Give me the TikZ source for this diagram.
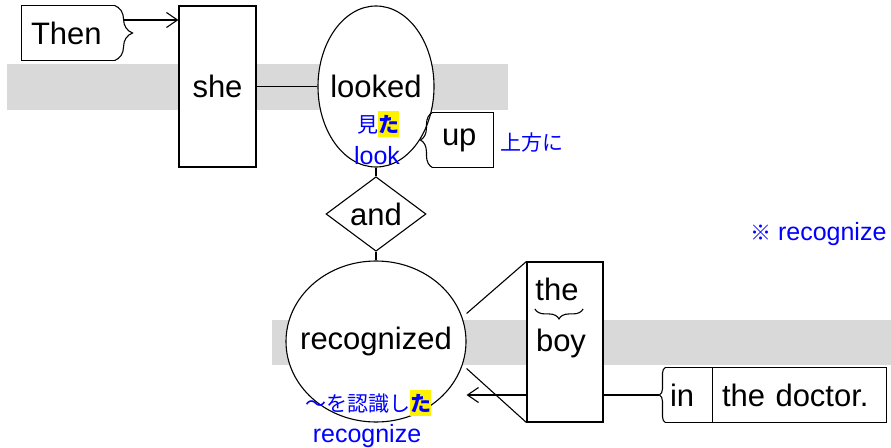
\documentclass[tikz,border=0pt]{standalone}
\usepackage{fontspec}
\setmainfont{Liberation Sans}
\newfontfamily\jpfont{Noto Sans CJK JP}
\usetikzlibrary{shapes.geometric,positioning,decorations.pathreplacing,arrows.meta}

\newcommand{\wordfont}{\fontsize{31}{36}\selectfont}
\newcommand{\glossfont}{\fontsize{25}{28}\selectfont}
\newcommand{\jp}[1]{{\jpfont\fontsize{21}{24}\selectfont #1}}
\newcommand{\hl}[1]{{\setlength{\fboxsep}{0pt}\colorbox{yellow}{\rule[-5pt]{0pt}{26pt}\bfseries #1}}}

\begin{document}
\begin{tikzpicture}[x=1pt, y=-1pt, line width=1.1pt,
            word/.style={rectangle, draw, fill=white, font=\wordfont, inner sep=0pt},
            slot/.style={rectangle, font=\wordfont, inner xsep=9pt, inner ysep=0pt, minimum height=54pt, align=left},
            verb/.style={ellipse, draw, fill=white, font=\wordfont, inner sep=0pt, minimum height=161pt},
            conj/.style={diamond, draw, fill=white, font=\wordfont, inner sep=0pt, minimum width=100pt, minimum height=60pt},
            gloss/.style={font=\glossfont, text=blue, inner sep=0pt},
            band/.style={fill=black!15},
            bracket/.style={decorate, decoration={brace, amplitude=#1}},
            arrow/.style={-{Straight Barb[length=11pt,width=15pt]}}
        ]
            \useasboundingbox (0,0) rectangle (891,447);

            % gray bands behind the two clauses
            \fill[band] (7,64) rectangle (508,110);
            \fill[band] (272,320) rectangle (891,365);

            % words
            \node[slot, text width=74pt] (then) at (68,33) {Then};
            \node[word, minimum width=77pt, minimum height=161pt] (she) at (217.5,86.5) {she};
            \node[verb, minimum width=116pt] (looked) at (376,86.5) {\makebox[0pt]{looked}};
            \node[slot, text width=42pt] (up) at (463,140) {up};
            \node[conj] (and) at (376,214) {and};
            \node[verb, minimum width=180pt] (recognized) at (376,341.5) {\makebox[0pt]{recognized}};
            \node[slot, inner xsep=4pt, text width=38pt] (in) at (689,395) {in};
            \node[slot, text width=155pt, right=0pt of in] (doctor) {the doctor.};

            % modifier boxes with a brace side
            \draw (then.north east) -- (then.north west) -- (then.south west) -- (then.south east);
            \draw[bracket=18pt] (then.north east) -- (then.south east);
            \draw (up.north west) -- (up.north east) -- (up.south east) -- (up.south west);
            \draw[bracket=12pt] (up.south west) -- (up.north west);
            \draw (in.north west) -- (doctor.north east) -- (doctor.south east) -- (in.south west);
            \draw (in.north east) -- (in.south east);
            \draw[bracket=6pt] (in.south west) -- (in.north west);

            % object phrase
            \draw[arrow] ([xshift=-6pt]in.west) coordinate (intip) -- (intip -| recognized.east);
            \node[word, minimum width=76pt, minimum height=160pt] (np) at (565,342) {};
            \node[inner sep=0pt, font=\wordfont] (the) at (557,289) {the};
            \node[inner sep=0pt, font=\wordfont] (boy) at (561,343.5) {boy};
            \draw[decorate, decoration={brace, mirror, amplitude=10pt}] ([yshift=-8pt]the.south west) -- ([shift={(4pt,-8pt)}]the.south east);

            % connectors
            \draw[arrow] ([shift={(9pt,13pt)}]then.east) coordinate (thenarm) -- (thenarm -| she.west);
            \draw (she.east) -- (looked.west);
            \draw (looked.south) -- (and.north);
            \draw (and.south) -- (recognized.north);
            \draw ([yshift=28pt]recognized.east) -- (np.north west);
            \draw ([yshift=-27pt]recognized.east) -- (np.south west);

            % glosses
            \node[gloss] (lookedjp) at (378,124) {\jp{見\hl{た}}};
            \node[gloss] (lookeden) at (377,156) {look};
            \node[gloss] (upjp) at (532,143) {\jp{上方に}};
            \node[gloss] (recjp) at (368,403) {\jp{〜を認識し\hl{た}}};
            \node[gloss] (recen) at (367,436) {recognize};
            \node[gloss, anchor=east] (note) at (887,234) {\jp{※} recognize};

        \end{tikzpicture}
\end{document}
